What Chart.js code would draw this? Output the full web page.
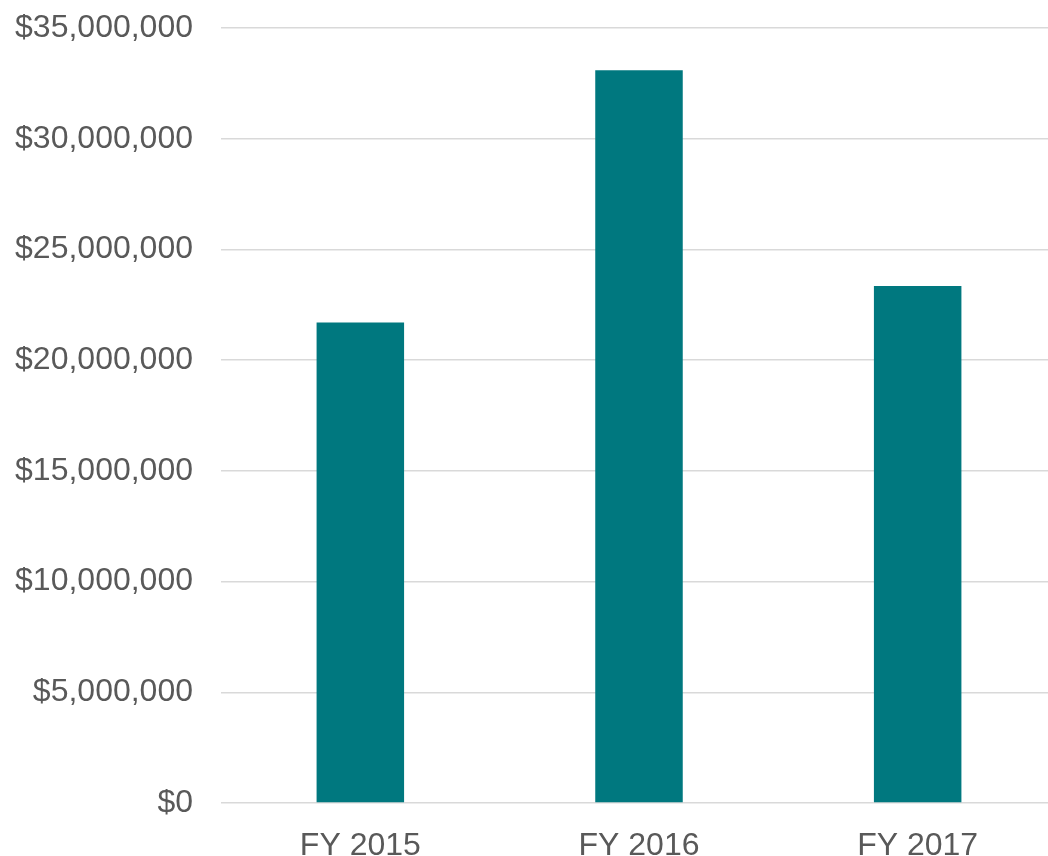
<!DOCTYPE html>
<html>
<head>
<meta charset="utf-8">
<script src="https://cdn.jsdelivr.net/npm/chart.js@4"></script>
<style>
    html, body { margin: 0; padding: 0; overflow: hidden; background: #fff; }
    #wrap { width: 1057px; height: 856px; }
</style>
</head>
<body>
<div id="wrap"><canvas id="myChart"></canvas></div>
<script>
const years = ['FY 2015', 'FY 2016', 'FY 2017'];
const amounts = [21700000, 33090000, 23350000];
const yMax = 35000000;
const yStep = 5000000;

const labelFont = { family: '"Liberation Sans", Arial, sans-serif', size: 32 };

const ctx = document.getElementById('myChart').getContext('2d');
new Chart(ctx, {
    type: 'bar',
    data: {
        labels: years,
        datasets: [
            {
                data: amounts,
                backgroundColor: '#00787F',
                borderWidth: 0,
                barPercentage: 0.314,
                categoryPercentage: 1,
            },
        ],
    },
    options: {
        responsive: true,
        maintainAspectRatio: false,
        animation: false,
        layout: {
            padding: { top: 28, left: 0, right: 0, bottom: 0 },
        },
        plugins: {
            legend: { display: false },
            tooltip: { enabled: false },
        },
        scales: {
            x: {
                grid: { display: false },
                border: { display: false },
                ticks: {
                    color: '#595959',
                    font: labelFont,
                    padding: 16,
                },
                afterFit: (scale) => {
                    scale.height = 53;
                    scale.paddingLeft = 0;
                    scale.paddingRight = 0;
                },
            },
            y: {
                min: 0,
                max: yMax,
                border: { display: false },
                grid: {
                    color: '#d9d9d9',
                    lineWidth: 1.5,
                    drawTicks: false,
                },
                ticks: {
                    stepSize: yStep,
                    color: '#595959',
                    font: labelFont,
                    padding: 28,
                    callback: (value) => '$' + value.toLocaleString('en-US'),
                },
                afterFit: (scale) => {
                    scale.width = 221;
                    scale.paddingTop = 0;
                    scale.paddingBottom = 0;
                },
            },
        },
    },
});
</script>
</body>
</html>
